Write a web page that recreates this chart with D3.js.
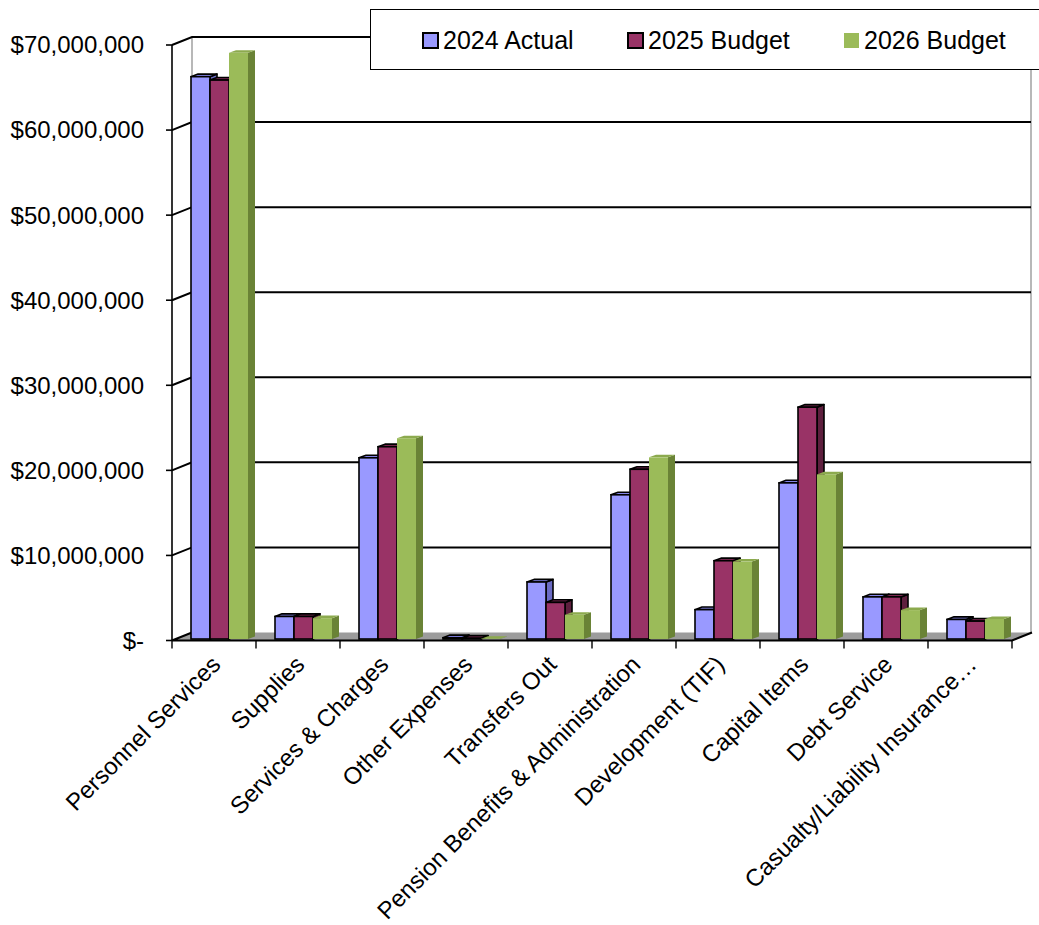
<!DOCTYPE html>
<html>
<head>
<meta charset="utf-8">
<script src="https://cdn.jsdelivr.net/npm/d3@7/dist/d3.min.js"></script>
<style>
  html, body { margin: 0; padding: 0; background: #fff; }
  svg { display: block; }
  text { font-family: "Liberation Sans", Arial, sans-serif; fill: #000; }
</style>
</head>
<body>
<svg id="chart" width="1039" height="925"></svg>
<script>
// Expenditure categories shown along the floor
const categories = [
  "Personnel Services",
  "Supplies",
  "Services & Charges",
  "Other Expenses",
  "Transfers Out",
  "Pension Benefits & Administration",
  "Development (TIF)",
  "Capital Items",
  "Debt Service",
  "Casualty/Liability Insurance\u2026"
];

const seriesNames = ["2024 Actual", "2025 Budget", "2026 Budget"];

// Dollar amounts per category
const actual2024 = [66100000, 2650000, 21300000, 150000, 6700000, 16950000, 3450000, 18350000, 4950000, 2300000];
const budget2025 = [65700000, 2650000, 22600000, 90000, 4300000, 19950000, 9200000, 27250000, 4950000, 2100000];
const budget2026 = [68900000, 2450000, 23600000, 20000, 2850000, 21350000, 9100000, 19350000, 3400000, 2350000];

const yTickValues = [0, 10000000, 20000000, 30000000, 40000000, 50000000, 60000000, 70000000];
const yTickLabels = ["$-", "$10,000,000", "$20,000,000", "$30,000,000", "$40,000,000", "$50,000,000", "$60,000,000", "$70,000,000"];

// Face colours: front, side, top
const palette = [
  { front: "#9999FF", side: "#6B6BC4", top: "#8383E6", stroke: "#000" },
  { front: "#993366", side: "#5E1F3E", top: "#7B2952", stroke: "#000" },
  { front: "#9BBB59", side: "#6A8336", top: "#8CAA4E", stroke: null }
];

const seriesValues = [actual2024, budget2025, budget2026];

const svg = d3.select("#chart");

// Plot geometry
const x0 = 172, x1 = 1012;
const wallDx = 20, wallDy = -8;     // depth offset of back wall
const barDx = 7, barDy = -2.6;      // depth of each column

const x = d3.scaleBand().domain(categories).range([x0, x1]).paddingInner(0).paddingOuter(0);
const xs = d3.scaleBand().domain(seriesNames).range([19, 19 + 57]).padding(0);
const y = d3.scaleLinear().domain([0, 70000000]).range([640.5, 45]);

const font = 25;

// Back wall edges
const wall = svg.append("g");
wall.append("line")
  .attr("x1", x0 + wallDx).attr("x2", x0 + wallDx)
  .attr("y1", y(70000000) + wallDy).attr("y2", y(0) + wallDy)
  .attr("stroke", "#a0a0a0").attr("stroke-width", 1.5);
wall.append("line")
  .attr("x1", x1 + wallDx - 1).attr("x2", x1 + wallDx - 1)
  .attr("y1", y(70000000) + wallDy).attr("y2", y(0) + wallDy)
  .attr("stroke", "#a0a0a0").attr("stroke-width", 1.5);

// Gridlines: slanted segment on the side wall plus the run across the back wall
yTickValues.forEach(v => {
  if (v === 0) return;
  const yy = y(v);
  wall.append("path")
    .attr("d", `M${x0},${yy} L${x0 + wallDx},${yy + wallDy} L${x1 + wallDx - 1},${yy + wallDy}`)
    .attr("fill", "none").attr("stroke", "#000").attr("stroke-width", 2);
});

// Floor
svg.append("path")
  .attr("d", `M${x0},${y(0)} L${x1},${y(0)} L${x1 + wallDx},${y(0) + wallDy} L${x0 + wallDx},${y(0) + wallDy} Z`)
  .attr("fill", "#9c9c9c").attr("stroke", "none");
svg.append("path")
  .attr("d", `M${x0 + wallDx},${y(0) + wallDy} L${x0},${y(0)} L${x1},${y(0)} L${x1 + wallDx},${y(0) + wallDy}`)
  .attr("fill", "none").attr("stroke", "#000").attr("stroke-width", 2);

// Columns drawn left to right so each front face covers its neighbour's side
const bars = svg.append("g");
categories.forEach((cat, ci) => {
  seriesNames.forEach((s, si) => {
    const v = seriesValues[si][ci];
    const c = palette[si];
    const bx = x(cat) + xs(s);
    const bw = xs.bandwidth();
    const yb = y(0) - 1.5;
    const yt = y(v) - 1.5;
    const sw = c.stroke ? 1.6 : 0;
    const g = bars.append("g");
    // side
    g.append("path")
      .attr("d", `M${bx + bw},${yb} L${bx + bw + barDx},${yb + barDy} L${bx + bw + barDx},${yt + barDy} L${bx + bw},${yt} Z`)
      .attr("fill", c.side).attr("stroke", c.stroke || "none").attr("stroke-width", sw).attr("stroke-linejoin", "round");
    // top
    g.append("path")
      .attr("d", `M${bx},${yt} L${bx + barDx},${yt + barDy} L${bx + bw + barDx},${yt + barDy} L${bx + bw},${yt} Z`)
      .attr("fill", c.top).attr("stroke", c.stroke || "none").attr("stroke-width", sw).attr("stroke-linejoin", "round");
    // front
    g.append("rect")
      .attr("x", bx).attr("y", yt).attr("width", bw).attr("height", Math.max(0, yb - yt))
      .attr("fill", c.front).attr("stroke", c.stroke || "none").attr("stroke-width", sw);
  });
});

// Value axis
const yAxis = svg.append("g");
yAxis.append("line")
  .attr("x1", x0).attr("x2", x0).attr("y1", y(70000000)).attr("y2", y(0) + 0.5)
  .attr("stroke", "#000").attr("stroke-width", 1.6);
yTickValues.forEach((v, i) => {
  const yy = y(v);
  yAxis.append("line")
    .attr("x1", x0 - 6).attr("x2", x0).attr("y1", yy).attr("y2", yy)
    .attr("stroke", "#000").attr("stroke-width", 1.6);
  yAxis.append("text")
    .attr("x", 144).attr("y", yy).attr("dy", "0.35em")
    .attr("text-anchor", "end").attr("font-size", font - 1)
    .text(yTickLabels[i]);
});

// Category axis ticks and rotated labels
const xAxis = svg.append("g");
d3.range(categories.length + 1).forEach(i => {
  const xx = x0 + i * x.bandwidth();
  xAxis.append("line")
    .attr("x1", xx).attr("x2", xx).attr("y1", y(0)).attr("y2", y(0) + 8)
    .attr("stroke", "#000").attr("stroke-width", 1.4);
});
categories.forEach(cat => {
  const cx = x(cat) + x.bandwidth() / 2;
  xAxis.append("text")
    .attr("transform", `translate(${cx + 2},${660}) rotate(-45)`)
    .attr("dy", "0.35em")
    .attr("text-anchor", "end").attr("font-size", font - 1)
    .text(cat);
});

// Legend
const legend = svg.append("g");
legend.append("rect")
  .attr("x", 370.5).attr("y", 9.5).attr("width", 700).attr("height", 60)
  .attr("fill", "#fff").attr("stroke", "#000").attr("stroke-width", 1);
const legendX = [423, 628, 844];
seriesNames.forEach((s, i) => {
  const c = palette[i];
  legend.append("rect")
    .attr("x", legendX[i]).attr("y", 33).attr("width", 15).attr("height", 15)
    .attr("fill", c.front)
    .attr("stroke", c.stroke || "none").attr("stroke-width", c.stroke ? 2 : 0);
  legend.append("text")
    .attr("x", legendX[i] + 20).attr("y", 48.5)
    .attr("font-size", font)
    .text(s);
});
</script>
</body>
</html>
